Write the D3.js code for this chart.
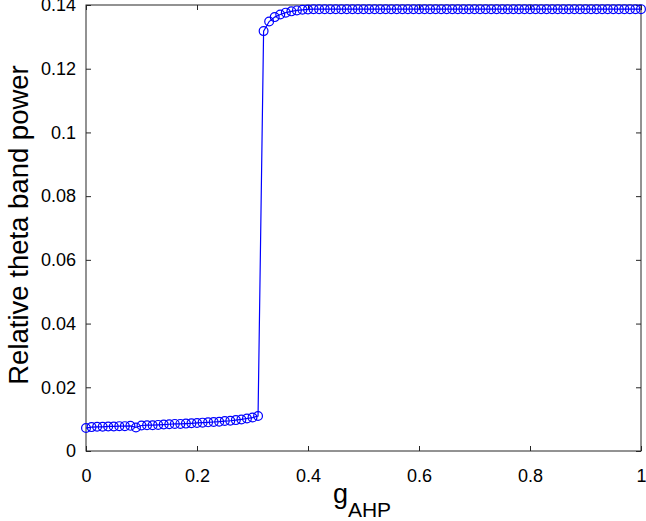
<!DOCTYPE html>
<html>
<head>
<meta charset="utf-8">
<script src="https://cdn.jsdelivr.net/npm/d3@7"></script>
<style>
  body { margin: 0; background: #fff; }
  text { font-family: "Liberation Sans", Arial, sans-serif; fill: #000; }
</style>
</head>
<body>
<svg width="646" height="521"></svg>
<script>
// g_AHP grid, 0 to 1 in steps of 0.01
const gValues = d3.range(0, 101).map(i => i / 100);
// relative theta band power
const lowBranch = [
    0.0072, 0.0075, 0.0076, 0.0076, 0.0077, 0.0077, 0.0078, 0.0078, 0.0079, 0.0074,
    0.0080, 0.0081, 0.0081, 0.0082, 0.0083, 0.0084, 0.0085, 0.0085, 0.0086, 0.0087,
    0.0088, 0.0089, 0.0090, 0.0091, 0.0092, 0.0094, 0.0095, 0.0097, 0.0099, 0.0102,
    0.0105, 0.0110
];
const highBranch = [
    0.1318, 0.1348, 0.1362, 0.1370, 0.1376, 0.1380, 0.1383, 0.1385, 0.1386,
    0.1387, 0.1387, 0.1387, 0.1387, 0.1387, 0.1387, 0.1387, 0.1387, 0.1387, 0.1387,
    0.1387, 0.1387, 0.1387, 0.1387, 0.1387, 0.1387, 0.1387, 0.1387, 0.1387, 0.1387,
    0.1387, 0.1387, 0.1387, 0.1387, 0.1387, 0.1387, 0.1387, 0.1387, 0.1387, 0.1387,
    0.1387, 0.1387, 0.1387, 0.1387, 0.1387, 0.1387, 0.1387, 0.1387, 0.1387, 0.1387,
    0.1387, 0.1387, 0.1387, 0.1387, 0.1387, 0.1387, 0.1387, 0.1387, 0.1387, 0.1387,
    0.1387, 0.1387, 0.1387, 0.1387, 0.1387, 0.1387, 0.1387, 0.1387, 0.1387, 0.1387
];
const powerValues = lowBranch.concat(highBranch);
const xTicks = [0, 0.2, 0.4, 0.6, 0.8, 1];
const yTicks = [0, 0.02, 0.04, 0.06, 0.08, 0.1, 0.12, 0.14];

const data = gValues.map((g, i) => ({g: g, p: powerValues[i]}));

const svg = d3.select("svg");
const plotLeft = 86, plotRight = 641, plotTop = 5, plotBottom = 451;

const x = d3.scaleLinear().domain([0, 1]).range([plotLeft, plotRight]);
const y = d3.scaleLinear().domain([0, 0.14]).range([plotBottom, plotTop]);

const axisColor = "#262626";
const tickLen = 5;

// axes with inward ticks
svg.append("g")
    .attr("transform", "translate(0," + plotBottom + ")")
    .call(d3.axisBottom(x).tickValues(xTicks).tickSizeInner(-tickLen).tickSizeOuter(0)
        .tickPadding(18).tickFormat(d3.format("")));
svg.append("g")
    .attr("transform", "translate(" + plotLeft + ",0)")
    .call(d3.axisLeft(y).tickValues(yTicks).tickSizeInner(-tickLen).tickSizeOuter(0)
        .tickPadding(10).tickFormat(d3.format("")));
// mirrored ticks on top and right
svg.append("g")
    .attr("transform", "translate(0," + plotTop + ")")
    .call(d3.axisTop(x).tickValues(xTicks).tickSizeInner(-tickLen).tickSizeOuter(0).tickFormat(""));
svg.append("g")
    .attr("transform", "translate(" + plotRight + ",0)")
    .call(d3.axisRight(y).tickValues(yTicks).tickSizeInner(-tickLen).tickSizeOuter(0).tickFormat(""));

svg.selectAll(".domain").remove();
svg.selectAll(".tick line").attr("stroke", axisColor);
svg.selectAll(".tick text")
    .style("font-family", "'Liberation Sans', Arial, sans-serif")
    .style("font-size", "18px")
    .attr("fill", "#000");

// box
svg.append("rect")
    .attr("x", plotLeft).attr("y", plotTop)
    .attr("width", plotRight - plotLeft).attr("height", plotBottom - plotTop)
    .attr("fill", "none")
    .attr("stroke", axisColor)
    .attr("stroke-width", 1);

// line
const line = d3.line().x(d => x(d.g)).y(d => y(d.p));
svg.append("path")
    .datum(data)
    .attr("fill", "none")
    .attr("stroke", "#0000ff")
    .attr("stroke-width", 1.2)
    .attr("d", line);

// markers
svg.append("g")
    .selectAll("circle")
    .data(data)
    .enter().append("circle")
    .attr("cx", d => x(d.g))
    .attr("cy", d => y(d.p))
    .attr("r", 4.4)
    .attr("fill", "none")
    .attr("stroke", "#0000ff")
    .attr("stroke-width", 1.2);

// labels
svg.append("text")
    .attr("transform", "translate(28,225) rotate(-90)")
    .attr("text-anchor", "middle")
    .style("font-size", "27.5px")
    .text("Relative theta band power");

const xl = svg.append("text")
    .attr("x", 362)
    .attr("y", 503)
    .attr("text-anchor", "middle")
    .style("font-size", "27px");
xl.append("tspan").text("g");
xl.append("tspan").attr("dy", 14).style("font-size", "21px").text("AHP");
</script>
</body>
</html>
